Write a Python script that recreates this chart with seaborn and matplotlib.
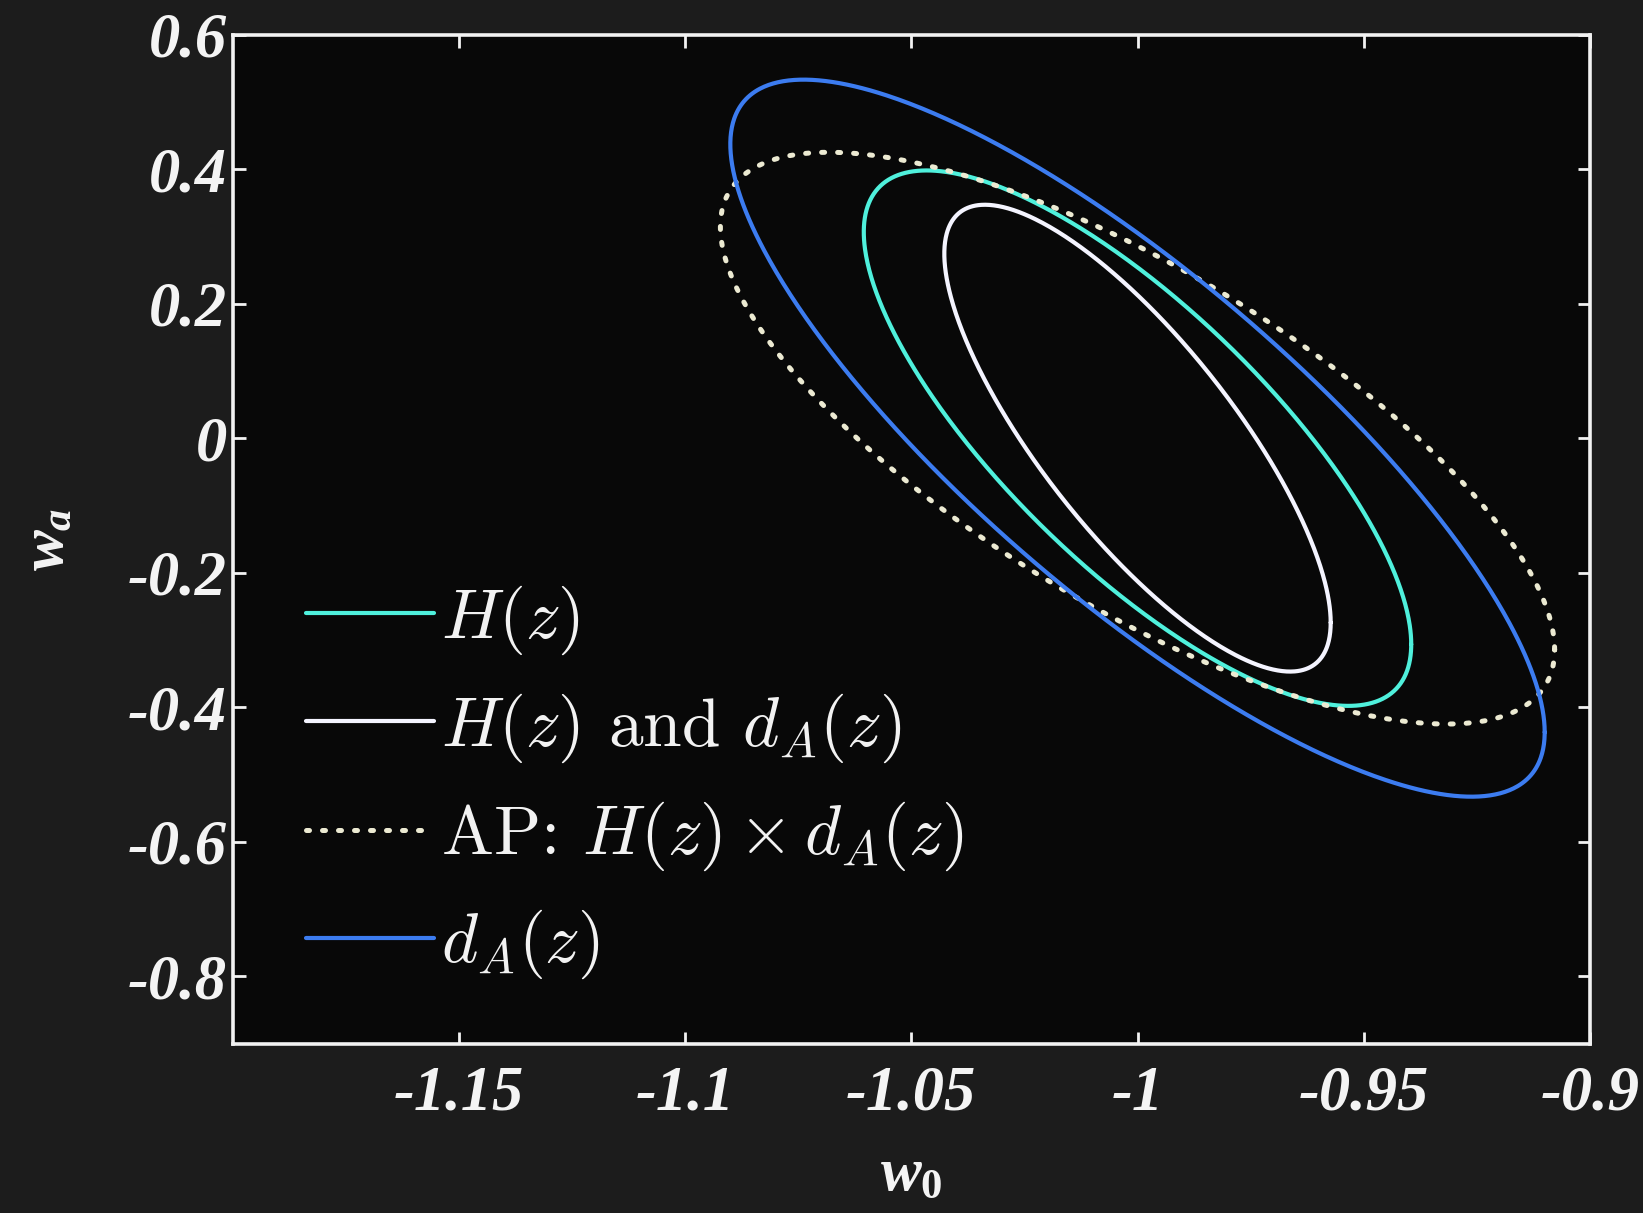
import numpy as np
import pandas as pd
import matplotlib
matplotlib.use("Agg")
import matplotlib.pyplot as plt
import seaborn as sns

# ---- data ----
curve_names = ["H(z)", "H(z) and dA(z)", "AP: H(z) x dA(z)", "dA(z)"]
center_w0 = [-1.0, -1.0, -1.0, -1.0]
center_wa = [0.0, 0.0, 0.0, 0.0]
sigma_w0 = [0.0605, 0.0427, 0.0922, 0.0900]
sigma_wa = [0.398, 0.347, 0.425, 0.533]
rho = [-0.77, -0.79, -0.74, -0.82]

x_ticks = [-1.15, -1.1, -1.05, -1.0, -0.95, -0.9]
x_ticklabels = ["-1.15", "-1.1", "-1.05", "-1", "-0.95", "-0.9"]
y_ticks = [0.6, 0.4, 0.2, 0.0, -0.2, -0.4, -0.6, -0.8]
y_ticklabels = ["0.6", "0.4", "0.2", "0", "-0.2", "-0.4", "-0.6", "-0.8"]

legend_labels = [r"$H(z)$",
                 r"$H(z)$ and $d_A(z)$",
                 r"AP: $H(z)\times d_A(z)$",
                 r"$d_A(z)$"]

# ---- style ----
sns.set_theme(style="dark")
plt.rcParams.update({
    "axes.unicode_minus": False,
    "mathtext.fontset": "cm",
    "mathtext.it": "Liberation Serif:italic:bold",
    "mathtext.rm": "Liberation Serif:bold",
    "mathtext.bf": "Liberation Serif:bold",
})

colors = ["#4ff0dc", "#f4f4ff", "#ecead2", "#3c7cf0"]
styles = ["-", "-", (0, (0.6, 2.6)), "-"]
widths = [3.0, 3.0, 3.6, 3.0]

fig = plt.figure(figsize=(16.43, 12.13), dpi=100, facecolor="#1c1c1c")
ax = fig.add_axes([0.1416, 0.1397, 0.8261, 0.8318])
ax.set_facecolor("#080808")

t = np.linspace(0, 2 * np.pi, 721)
handles = []
for i, name in enumerate(curve_names):
    cov = np.array([[sigma_w0[i] ** 2, rho[i] * sigma_w0[i] * sigma_wa[i]],
                    [rho[i] * sigma_w0[i] * sigma_wa[i], sigma_wa[i] ** 2]])
    L = np.linalg.cholesky(cov)
    pts = L @ np.vstack([np.cos(t), np.sin(t)])
    df = pd.DataFrame({"w0": center_w0[i] + pts[0], "wa": center_wa[i] + pts[1]})
    sns.lineplot(data=df, x="w0", y="wa", sort=False, estimator=None, ax=ax,
                 color=colors[i], linestyle=styles[i], linewidth=widths[i],
                 dash_capstyle="round", solid_capstyle="round")
    handles.append(ax.get_lines()[-1])

ax.set_xlim(-1.2, -0.9)
ax.set_ylim(-0.9, 0.6)
ax.set_xticks(x_ticks)
ax.set_xticklabels(x_ticklabels)
ax.set_yticks(y_ticks)
ax.set_yticklabels(y_ticklabels)

for s in ax.spines.values():
    s.set_visible(True)
    s.set_color("#f2f2f2")
    s.set_linewidth(2.6)

ax.tick_params(axis="both", which="both", direction="in", length=9, width=2,
               color="#f2f2f2", top=True, right=True, bottom=True, left=True,
               labelcolor="#f4f4f4")
ax.tick_params(axis="x", pad=16)
ax.tick_params(axis="y", pad=4)
for lab in ax.get_xticklabels() + ax.get_yticklabels():
    lab.set_fontfamily("Liberation Serif")
    lab.set_fontstyle("italic")
    lab.set_fontweight("bold")
    lab.set_fontsize(45)
ax.grid(False)

ax.set_xlabel(r"$w_{\mathit{0}}$", fontsize=44, color="#f4f4f4",
              math_fontfamily="custom", labelpad=14)
ax.set_ylabel(r"$w_{\mathit{a}}$", fontsize=44, color="#f4f4f4",
              math_fontfamily="custom", labelpad=38)

leg = ax.legend(handles, legend_labels, loc="lower left",
                bbox_to_anchor=(0.008, 0.0), frameon=False,
                prop={"family": "cmr10", "size": 50},
                handlelength=1.85, handletextpad=0.1,
                labelspacing=0.5, borderaxespad=0.5)
for txt in leg.get_texts():
    txt.set_color("#f2f2f2")
    txt.set_math_fontfamily("cm")

fig.savefig("out.png", dpi=100, facecolor=fig.get_facecolor())
